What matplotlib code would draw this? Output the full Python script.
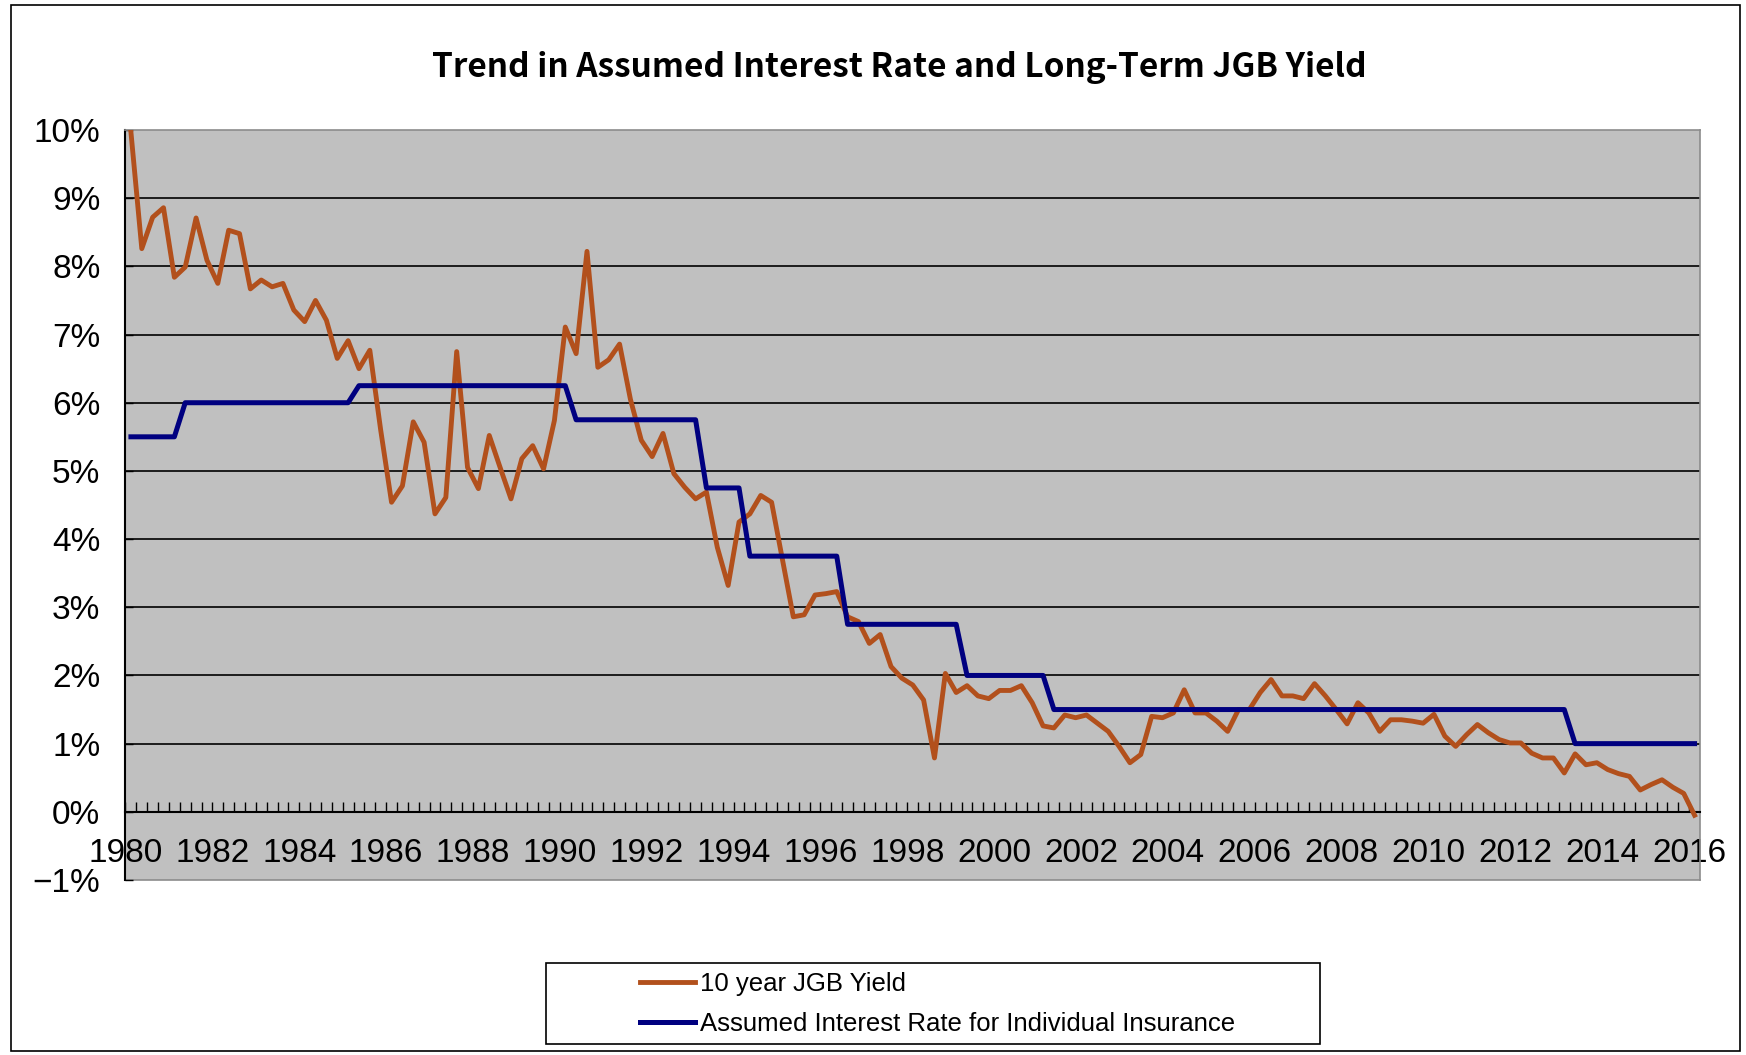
import numpy as np
import pandas as pd
import matplotlib
matplotlib.use('Agg')
import matplotlib.pyplot as plt
from matplotlib.patches import Rectangle

# quarterly data, 1980Q1 .. 2016Q1 (one row = two years)
quarters = pd.period_range('1980Q1', '2016Q1', freq='Q').astype(str)

jgb_10y = [
    9.97, 8.26, 8.72, 8.86, 7.84, 7.99, 8.71, 8.09,   # 1980-81
    7.75, 8.53, 8.48, 7.67, 7.80, 7.70, 7.75, 7.36,   # 1982-83
    7.19, 7.50, 7.21, 6.65, 6.91, 6.50, 6.77, 5.60,   # 1984-85
    4.54, 4.78, 5.72, 5.42, 4.37, 4.61, 6.75, 5.05,   # 1986-87
    4.74, 5.52, 5.05, 4.59, 5.18, 5.37, 5.03, 5.74,   # 1988-89
    7.11, 6.72, 8.22, 6.52, 6.63, 6.86, 6.05, 5.45,   # 1990-91
    5.21, 5.55, 4.96, 4.76, 4.59, 4.69, 3.88, 3.32,   # 1992-93
    4.25, 4.37, 4.64, 4.54, 3.70, 2.86, 2.89, 3.18,   # 1994-95
    3.20, 3.23, 2.86, 2.79, 2.47, 2.60, 2.13, 1.96,   # 1996-97
    1.86, 1.64, 0.79, 2.03, 1.75, 1.85, 1.70, 1.66,   # 1998-99
    1.78, 1.78, 1.85, 1.60, 1.26, 1.23, 1.42, 1.38,   # 2000-01
    1.42, 1.30, 1.18, 0.96, 0.72, 0.84, 1.40, 1.38,   # 2002-03
    1.45, 1.79, 1.45, 1.45, 1.33, 1.18, 1.50, 1.50,   # 2004-05
    1.75, 1.94, 1.70, 1.70, 1.66, 1.88, 1.70, 1.50,   # 2006-07
    1.29, 1.60, 1.45, 1.18, 1.35, 1.35, 1.33, 1.30,   # 2008-09
    1.43, 1.11, 0.96, 1.13, 1.28, 1.16, 1.06, 1.01,   # 2010-11
    1.01, 0.86, 0.79, 0.79, 0.57, 0.85, 0.69, 0.72,   # 2012-13
    0.62, 0.56, 0.52, 0.32, 0.40, 0.47, 0.36, 0.27,   # 2014-15
    -0.05,                                            # 2016
]

assumed_rate = [
    5.50, 5.50, 5.50, 5.50, 5.50, 6.00, 6.00, 6.00,   # 1980-81
    6.00, 6.00, 6.00, 6.00, 6.00, 6.00, 6.00, 6.00,   # 1982-83
    6.00, 6.00, 6.00, 6.00, 6.00, 6.25, 6.25, 6.25,   # 1984-85
    6.25, 6.25, 6.25, 6.25, 6.25, 6.25, 6.25, 6.25,   # 1986-87
    6.25, 6.25, 6.25, 6.25, 6.25, 6.25, 6.25, 6.25,   # 1988-89
    6.25, 5.75, 5.75, 5.75, 5.75, 5.75, 5.75, 5.75,   # 1990-91
    5.75, 5.75, 5.75, 5.75, 5.75, 4.75, 4.75, 4.75,   # 1992-93
    4.75, 3.75, 3.75, 3.75, 3.75, 3.75, 3.75, 3.75,   # 1994-95
    3.75, 3.75, 2.75, 2.75, 2.75, 2.75, 2.75, 2.75,   # 1996-97
    2.75, 2.75, 2.75, 2.75, 2.75, 2.00, 2.00, 2.00,   # 1998-99
    2.00, 2.00, 2.00, 2.00, 2.00, 1.50, 1.50, 1.50,   # 2000-01
    1.50, 1.50, 1.50, 1.50, 1.50, 1.50, 1.50, 1.50,   # 2002-03
    1.50, 1.50, 1.50, 1.50, 1.50, 1.50, 1.50, 1.50,   # 2004-05
    1.50, 1.50, 1.50, 1.50, 1.50, 1.50, 1.50, 1.50,   # 2006-07
    1.50, 1.50, 1.50, 1.50, 1.50, 1.50, 1.50, 1.50,   # 2008-09
    1.50, 1.50, 1.50, 1.50, 1.50, 1.50, 1.50, 1.50,   # 2010-11
    1.50, 1.50, 1.50, 1.50, 1.50, 1.00, 1.00, 1.00,   # 2012-13
    1.00, 1.00, 1.00, 1.00, 1.00, 1.00, 1.00, 1.00,   # 2014-15
    1.00,                                             # 2016
]

year_labels = ['1980', '1982', '1984', '1986', '1988', '1990', '1992', '1994', '1996',
               '1998', '2000', '2002', '2004', '2006', '2008', '2010', '2012', '2014', '2016']
pct_ticks = [-1, 0, 1, 2, 3, 4, 5, 6, 7, 8, 9, 10]
pct_labels = ['\u22121%', '0%', '1%', '2%', '3%', '4%', '5%', '6%', '7%', '8%', '9%', '10%']

title = 'Trend in Assumed Interest Rate and Long-Term JGB Yield'
label_jgb = '10 year JGB Yield'
label_rate = 'Assumed Interest Rate for Individual Insurance'

plt.rcParams['font.family'] = ['Liberation Sans', 'DejaVu Sans']

W, H = 1746, 1055
fig = plt.figure(figsize=(W / 100, H / 100), dpi=100)
ax = fig.add_axes([125.5 / W, 1 - 880 / H, (1700 - 125.5) / W, (880 - 130) / H])
ax.set_facecolor('#C0C0C0')

x = np.arange(len(quarters))
ax.plot(x, jgb_10y, color='#B2501C', lw=3.5, zorder=3, label=label_jgb)
ax.plot(x, assumed_rate, color='#000080', lw=3.6, zorder=3, label=label_rate)

ax.set_xlim(-0.5, len(x) - 0.5)
ax.set_ylim(-1, 10)

# horizontal gridlines (black, Excel style)
for v in pct_ticks[2:-1]:
    ax.axhline(v, color='black', lw=1.2, zorder=1)
ax.axhline(-1, color='#8c8c8c', lw=1.2, clip_on=False, zorder=1)

ax.set_yticks(pct_ticks, pct_labels)
ax.tick_params(axis='y', direction='in', length=6, width=1, pad=18, labelsize=24)

# category axis crossing at 0%, label every 8 quarters on boundaries
year_pos = np.arange(len(year_labels)) * 8 - 0.5
ax.set_xticks(year_pos, year_labels)
ax.set_xticks(np.arange(0.5, len(x) - 1, 1), minor=True)
ax.tick_params(axis='x', which='both', direction='in', length=7.5, width=1, pad=19, labelsize=24)

ax.spines['bottom'].set_position(('data', 0))
ax.spines['bottom'].set_linewidth(1.5)
ax.spines['left'].set_linewidth(1.5)
for s in ['top', 'right']:
    ax.spines[s].set_color('#8c8c8c')
    ax.spines[s].set_linewidth(1.2)

fig.text(899 / W, 1 - 67 / H, title, ha='center', va='center', fontsize=24,
         fontweight='bold', family=['Noto Sans CJK JP', 'DejaVu Sans'])

handles, labels = ax.get_legend_handles_labels()
fig.legend(handles, labels, loc='upper left', bbox_to_anchor=(640 / W, 1 - 972 / H),
           frameon=False, fontsize=18.5, handlelength=2.15, handletextpad=0.2,
           labelspacing=0.62, borderpad=0, borderaxespad=0)
fig.add_artist(Rectangle((546 / W, 1 - 1044 / H), (1320 - 546) / W, (1044 - 963) / H,
                         transform=fig.transFigure, fill=False, ec='black', lw=1.2))

# outer chart border
fig.add_artist(Rectangle((11 / W, 1 - 1051 / H), (1740 - 11) / W, (1051 - 5) / H,
                         transform=fig.transFigure, fill=False, ec='black', lw=1.2))

fig.savefig('out.png', dpi=100)
